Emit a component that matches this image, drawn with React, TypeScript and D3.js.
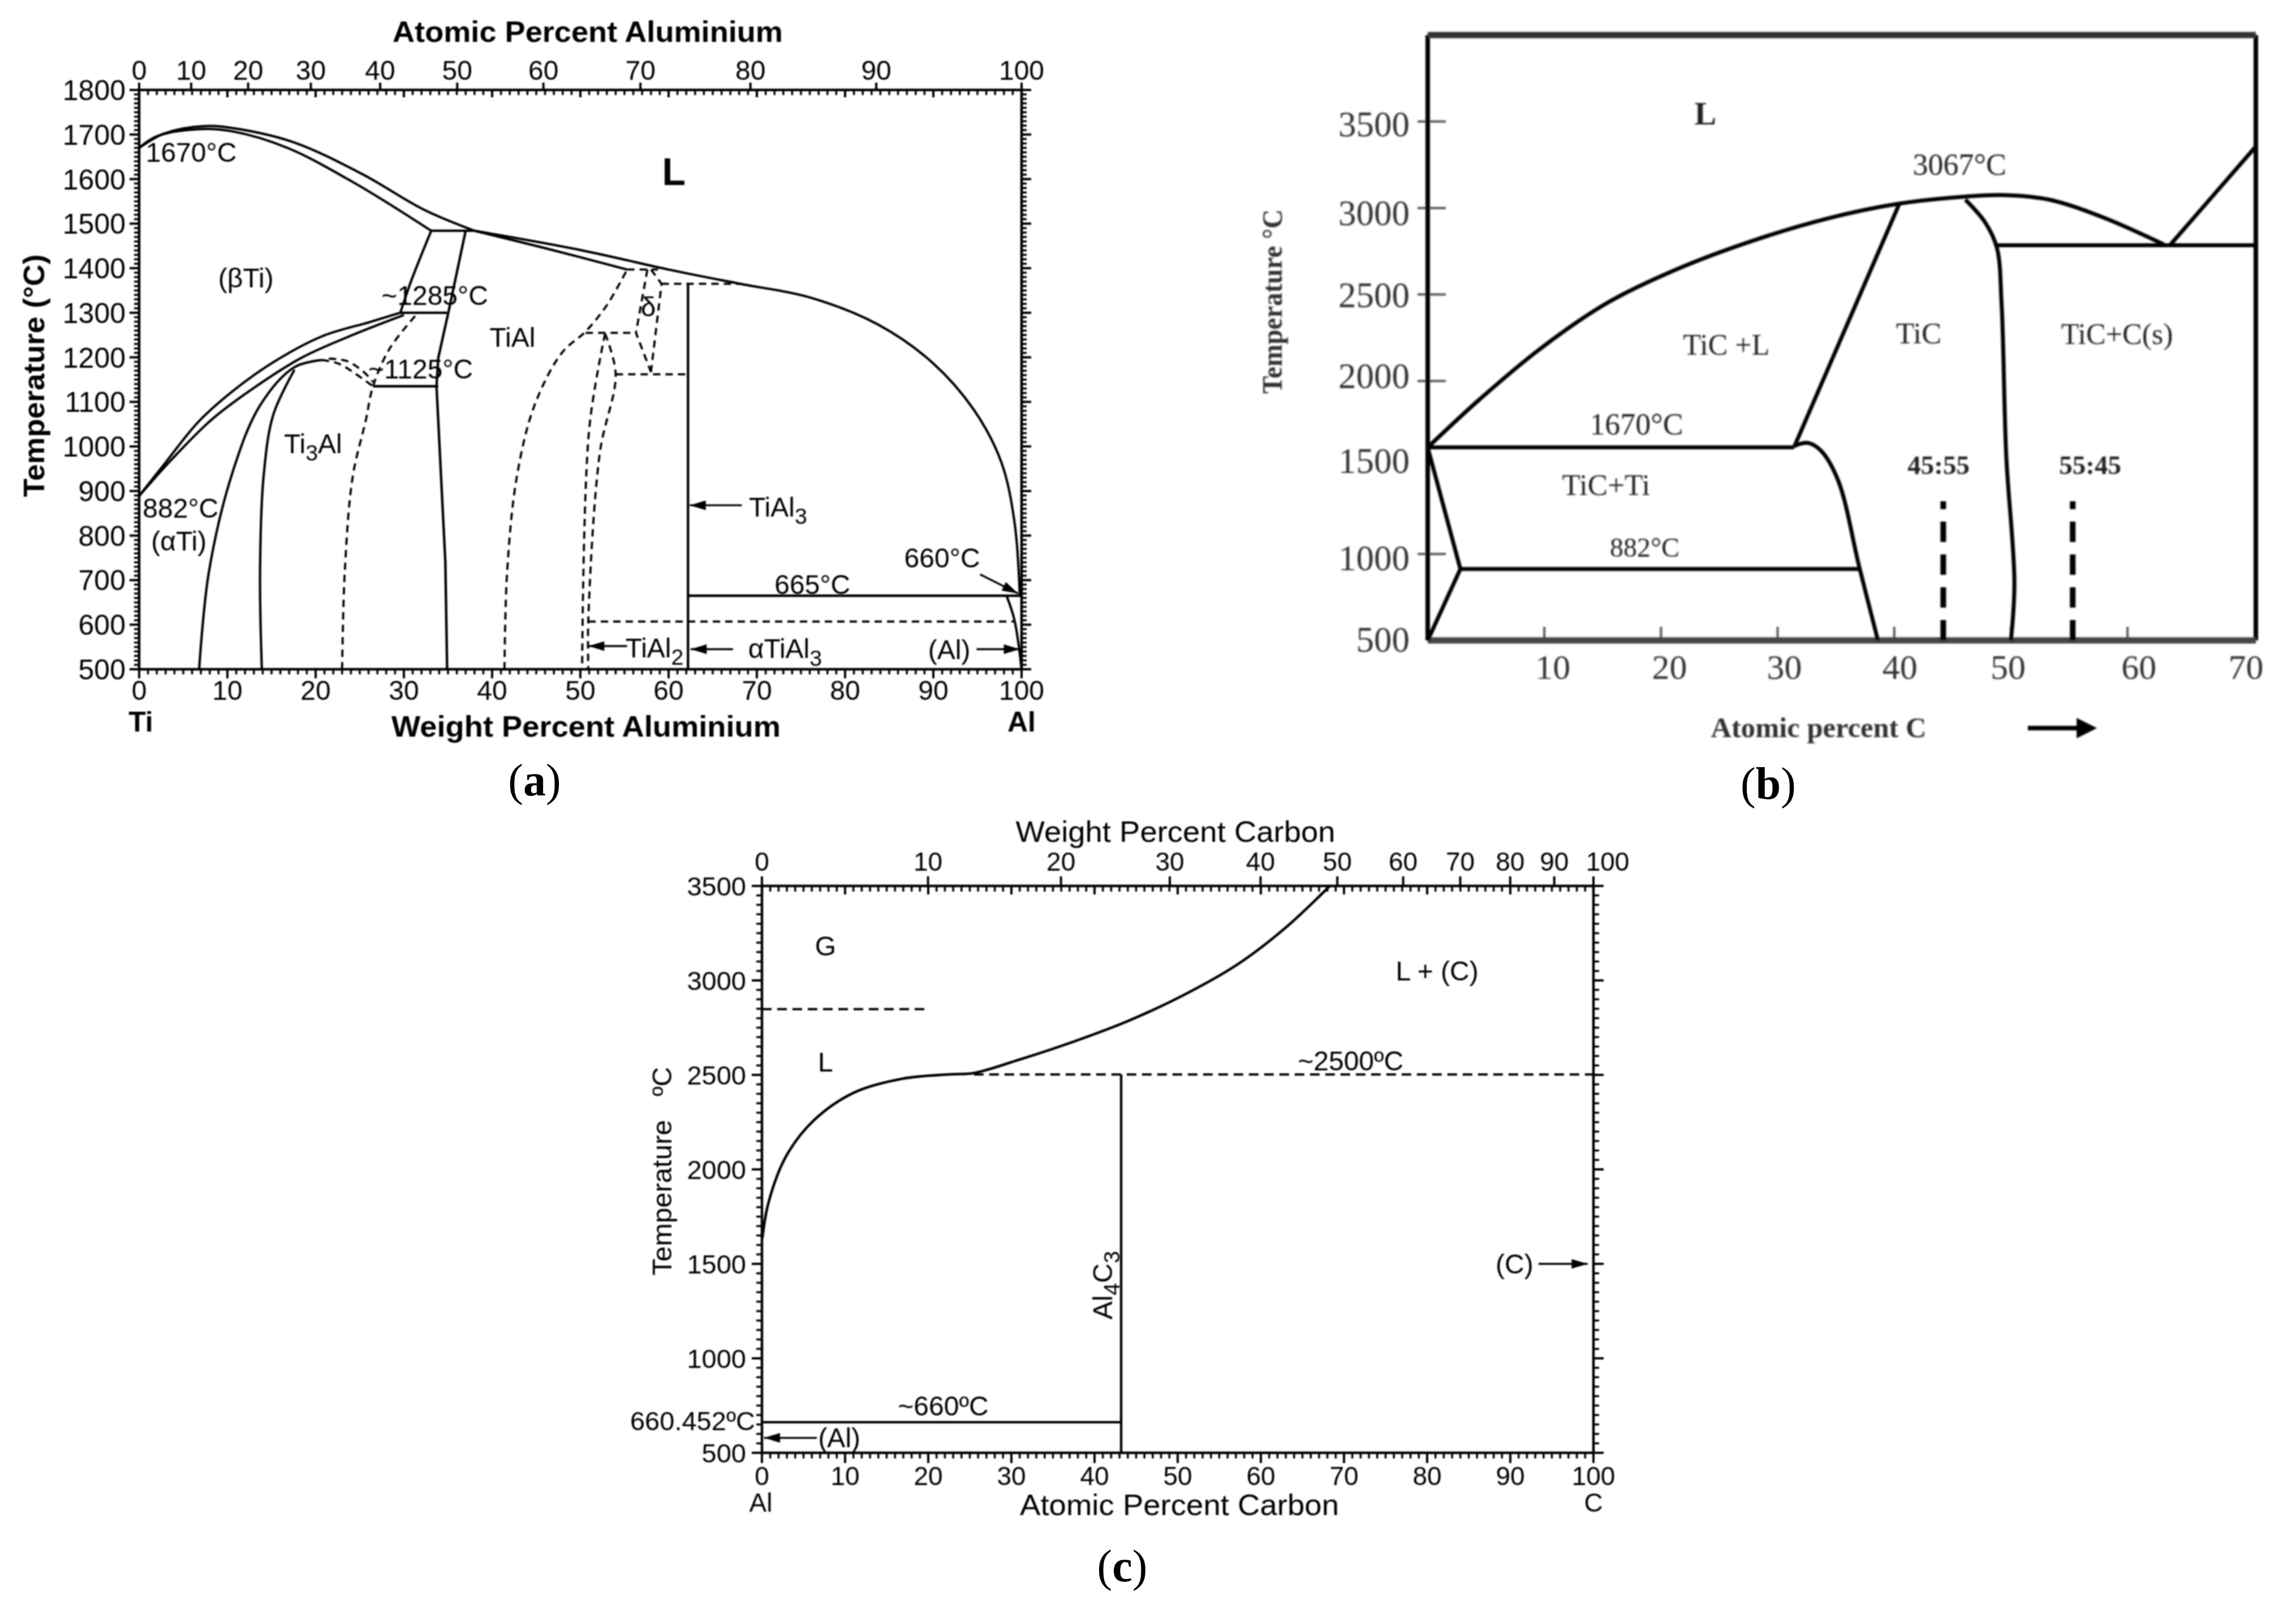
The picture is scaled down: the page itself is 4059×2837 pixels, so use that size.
import React from "react";
import * as d3 from "d3";

type P = [number, number];
type Note = { text: string; x: number; y: number; size?: number; weight?: number; anchor?: string; rotate?: number };
type Arrow = { from: P; to: P };

/* ---------- panel (a): Ti-Al ---------- */
const aYTicks = [500, 600, 700, 800, 900, 1000, 1100, 1200, 1300, 1400, 1500, 1600, 1700, 1800];
const aBottomTicks = [0, 10, 20, 30, 40, 50, 60, 70, 80, 90, 100];
const aTopTicksAtomic = [0, 10, 20, 30, 40, 50, 60, 70, 80, 90, 100];
const aLiquidusBeta: P[] = [[0, 1670], [2.8, 1702], [7.5, 1719], [11.4, 1712], [17.6, 1682], [25.3, 1611], [32.3, 1531], [38, 1484]];
const aLiquidusAl: P[] = [[38, 1484], [50.2, 1440], [60, 1397], [68.1, 1365], [75.9, 1335], [83.7, 1274], [89.9, 1188], [94.6, 1082], [97.7, 965], [99.2, 830], [99.8, 665]];
const aSolidusBeta: P[] = [[0, 1670], [2, 1696], [6.7, 1712], [10.6, 1707], [16.8, 1670], [24.6, 1589], [33.1, 1484]];
const aSolidusTiAl: P[] = [[38, 1484], [46, 1445], [55.3, 1397]];
const aAlphaUpper: P[] = [[0, 889], [2.8, 959], [6.7, 1055], [10.6, 1124], [15.2, 1189], [20.7, 1247], [26.1, 1279], [29.6, 1300]];
const aAlphaLower: P[] = [[0, 889], [3.6, 969], [8.2, 1060], [12.9, 1130], [18.4, 1199], [23.8, 1247], [30, 1295]];
const aBetaLeft: P[] = [[33.1, 1484], [30.8, 1370], [29.6, 1300]];
const aTiAlLeft: P[] = [[37, 1484], [35.1, 1306], [33.9, 1199], [33.7, 1135], [34.7, 740], [34.9, 500]];
const aTi3AlOuter: P[] = [[6.8, 500], [7.9, 718], [10.6, 943], [13.7, 1092], [17.6, 1178], [20.7, 1194]];
const aTi3AlInner: P[] = [[13.9, 500], [13.7, 718], [14.1, 932], [15.2, 1071], [17.6, 1172]];
const aH1484: P[] = [[33.1, 1484], [38, 1484]];
const aH1300: P[] = [[29.6, 1300], [34.9, 1300]];
const aH1135: P[] = [[26.5, 1135], [33.9, 1135]];
const aTiAl3: P[] = [[62.2, 1365], [62.2, 500]];
const aH665: P[] = [[62.2, 665], [100, 665]];
const aAlSolvus: P[] = [[98.3, 665], [99.2, 610], [100, 500]];
const aDashTop1: P[] = [[20.7, 1194], [22.6, 1186], [24.6, 1162], [26.5, 1135]];
const aDashTop2: P[] = [[21.5, 1197], [23.5, 1192], [25.4, 1168], [26.5, 1145]];
const aDashTi3AlRight: P[] = [[23, 500], [23.3, 718], [24.2, 932], [25.7, 1060], [26.5, 1135], [28.4, 1220], [31.6, 1300]];
const aDashTiAlRight: P[] = [[41.4, 500], [41.7, 718], [42.8, 932], [44.8, 1092], [47.9, 1210], [50.6, 1258], [53, 1317], [55.3, 1397]];
const aDashDeltaTop: P[] = [[55.3, 1397], [58.8, 1397]];
const aDashDeltaLeft: P[] = [[57.6, 1397], [56.3, 1255], [58, 1167]];
const aDashDeltaRight: P[] = [[58, 1397], [59.2, 1365], [58, 1167]];
const aDashH1365: P[] = [[59.2, 1365], [68.1, 1365]];
const aDashH1255: P[] = [[50.6, 1255], [56.3, 1255]];
const aDashH1162: P[] = [[54, 1162], [62.2, 1162]];
const aDashTiAl2Left: P[] = [[52.8, 1253], [51, 1039], [50.2, 500]];
const aDashTiAl2Right: P[] = [[52.8, 1253], [54, 1162], [52.2, 985], [50.9, 611], [50.9, 500]];
const aDashH610: P[] = [[50.9, 607], [99.2, 607]];
const aNotes: Note[] = [
  { text: "1670°C", x: 5.9, y: 1661 }, { text: "L", x: 60.6, y: 1618, size: 68, weight: 700 },
  { text: "(βTi)", x: 12.1, y: 1379 }, { text: "~1285°C", x: 33.5, y: 1340 }, { text: "TiAl", x: 42.3, y: 1245 },
  { text: "δ", x: 57.7, y: 1314 }, { text: "~1125°C", x: 31.9, y: 1175 }, { text: "Ti_3Al", x: 19.7, y: 1007 },
  { text: "882°C", x: 4.7, y: 862 }, { text: "(αTi)", x: 4.5, y: 788 }, { text: "TiAl_3", x: 72.4, y: 865 },
  { text: "660°C", x: 91, y: 750 }, { text: "665°C", x: 76.3, y: 691 }, { text: "TiAl_2", x: 58.4, y: 549 },
  { text: "αTiAl_3", x: 73.2, y: 547 }, { text: "(Al)", x: 91.8, y: 545 },
];
const aArrows: Arrow[] = [
  { from: [68.3, 868], to: [62.4, 868] }, { from: [95.3, 713], to: [99.6, 670] }, { from: [55.3, 552], to: [50.9, 552] },
  { from: [67.3, 545], to: [62.5, 545] }, { from: [94.9, 545], to: [99.8, 545] },
];

/* ---------- panel (b): Ti-C ---------- */
const bYTicks = [1000, 2000, 2500, 3000, 3500];
const bYLabels = [500, 1000, 1500, 2000, 2500, 3000, 3500];
const bYLabelShift = [-3, 6, -13, -10, 0, 8, 3];
const bXTicks = [10, 20, 30, 40, 50, 60];
const bXLabels = [10, 20, 30, 40, 50, 60, 70];
const bXLabelShift = [15, 15, 12, 10, -5, 20, 3];
const bLiquidus: P[] = [[0, 1616], [4.4, 1891], [9.6, 2184], [15.3, 2448], [21.6, 2653], [28, 2814], [34.3, 2940], [40.4, 3025], [46.1, 3066], [49.3, 3075], [53.3, 3048], [57.9, 2946], [63.1, 2790]];
const bEutecticUp: P[] = [[63.7, 2790], [71, 3356]];
const bH2785: P[] = [[48.7, 2785], [71, 2785]];
const bTiCLeft: P[] = [[40.4, 3019], [31.4, 1616]];
const bH1616: P[] = [[0, 1616], [31.4, 1616]];
const bHump: P[] = [[31.4, 1625], [32.6, 1642], [33.7, 1598], [35.2, 1423], [37, 925], [38.6, 500]];
const bH913: P[] = [[2.8, 913], [37, 913]];
const bLeftWedge: P[] = [[0, 1616], [2.8, 913], [0, 500]];
const bTiCRight: P[] = [[46.1, 3048], [47.8, 2916], [48.8, 2770], [49.2, 2448], [49.6, 1569], [50.3, 837], [50, 500]];
const bDash45: P[] = [[44.2, 500], [44.2, 1305]];
const bDash55: P[] = [[55.3, 500], [55.3, 1305]];
const bNotes: Note[] = [
  { text: "L", x: 23.8, y: 3550, size: 58, weight: 700 }, { text: "3067°C", x: 45.6, y: 3256, size: 54 },
  { text: "TiC +L", x: 25.6, y: 2213, size: 52 }, { text: "TiC", x: 42.1, y: 2280, size: 53 }, { text: "TiC+C(s)", x: 59.1, y: 2275, size: 52 },
  { text: "1670°C", x: 17.9, y: 1753, size: 54 }, { text: "TiC+Ti", x: 15.3, y: 1403, size: 53 },
  { text: "45:55", x: 43.8, y: 1516, size: 47, weight: 700 }, { text: "55:45", x: 56.8, y: 1516, size: 47, weight: 700 },
  { text: "882°C", x: 18.6, y: 1042, size: 48 },
];

/* ---------- panel (c): Al-C ---------- */
const cYTicks = [500, 1000, 1500, 2000, 2500, 3000, 3500];
const cBottomTicks = [0, 10, 20, 30, 40, 50, 60, 70, 80, 90, 100];
const cTopTicksWeight = [0, 10, 20, 30, 40, 50, 60, 70, 80, 90, 100];
const cLiquidus: P[] = [[0.05, 1636], [0.8, 1826], [2.9, 2069], [6.2, 2258], [11.1, 2407], [16.9, 2480], [22.6, 2503], [25.5, 2510], [30.9, 2580], [37.4, 2675], [44, 2785], [50.6, 2920], [57.2, 3085], [63, 3280], [68.3, 3500]];
const cDash2500: P[] = [[25.5, 2502], [100, 2502]];
const cDash2850: P[] = [[0, 2848], [19.8, 2848]];
const cAl4C3: P[] = [[43.2, 2502], [43.2, 500]];
const cH660: P[] = [[0, 662], [43.2, 662]];
const cNotes: Note[] = [
  { text: "G", x: 7.65, y: 3184 }, { text: "L", x: 7.65, y: 2569 }, { text: "L + (C)", x: 81.2, y: 3051 },
  { text: "~2500ºC", x: 70.8, y: 2575 }, { text: "~660ºC", x: 21.8, y: 749 }, { text: "(Al)", x: 9.3, y: 581 },
  { text: "(C)", x: 90.5, y: 1501 }, { text: "Al_4C_3", x: 40.9, y: 1387, rotate: -90 },
];
const cArrows: Arrow[] = [{ from: [6.6, 579], to: [0.25, 579] }, { from: [93.4, 1500], to: [99.3, 1500] }];

const SANS = "'Liberation Sans', Arial, sans-serif";
const SERIF = "'Liberation Serif', 'Times New Roman', serif";
const INK = "#000";
const SMOOTH = d3.curveCatmullRom.alpha(0.5);

const atomicToWeightAl = (a: number) => (100 * a * 26.98) / (a * 26.98 + (100 - a) * 47.87);
const weightToAtomicC = (w: number) => (100 * (w / 12.01)) / (w / 12.01 + (100 - w) / 26.98);

function Rich({ text, x, y, size, weight, anchor = "middle", family, fill = INK, rotate }: any) {
  const parts = String(text).split(/_(\d)/);
  const tf = rotate ? `rotate(${rotate} ${x} ${y})` : undefined;
  return (
    <text x={x} y={y + size * 0.36} fontSize={size} fontWeight={weight} textAnchor={anchor} fontFamily={family} fill={fill} transform={tf}>
      {parts.map((p, i) =>
        i % 2 === 1 ? (
          <tspan key={i} fontSize={size * 0.82} dy={size * 0.28}>{p}</tspan>
        ) : (
          <tspan key={i} dy={i > 0 ? -size * 0.28 : 0}>{p}</tspan>
        )
      )}
    </text>
  );
}

function Arrowhead({ id }: { id: string }) {
  return (
    <marker id={id} viewBox="0 0 10 6" refX="10" refY="3" markerUnits="userSpaceOnUse" markerWidth="30" markerHeight="17" orient="auto">
      <path d="M0,0L10,3L0,6Z" fill={INK} />
    </marker>
  );
}

function Lines({ list, line, width, dash, curve }: any) {
  return (
    <g fill="none" stroke={INK} strokeWidth={width} strokeDasharray={dash} strokeLinejoin="round">
      {list.map((pts: P[], i: number) => (
        <path key={i} d={line.curve(curve)(pts)} />
      ))}
    </g>
  );
}

function PanelA() {
  const x = d3.scaleLinear().domain([0, 100]).range([246, 1806]);
  const y = d3.scaleLinear().domain([500, 1800]).range([1183, 159]);
  const line = d3.line<P>().x((d) => x(d[0])).y((d) => y(d[1]));
  const minorsX = d3.range(0, 101);
  const minorsY = d3.range(500, 1801, 10);
  const smooth = [aLiquidusBeta, aLiquidusAl, aSolidusBeta, aSolidusTiAl, aAlphaUpper, aAlphaLower, aBetaLeft, aTi3AlOuter, aTi3AlInner, aAlSolvus];
  const straight = [aTiAlLeft, aH1484, aH1300, aH1135, aTiAl3, aH665];
  const dashedSmooth = [aDashTop1, aDashTop2, aDashTi3AlRight, aDashTiAlRight, aDashTiAl2Left, aDashTiAl2Right];
  const dashedStraight = [aDashDeltaTop, aDashDeltaLeft, aDashDeltaRight, aDashH1365, aDashH1255, aDashH1162, aDashH610];
  return (
    <g filter="url(#softA)">
      <rect x={x(0)} y={y(1800)} width={x(100) - x(0)} height={y(500) - y(1800)} fill="none" stroke={INK} strokeWidth={4.5} />
      <g stroke={INK} strokeWidth={3.5}>
        {minorsX.map((v) => <line key={v} x1={x(v)} x2={x(v)} y1={y(500)} y2={y(500) + 9} />)}
        {minorsX.map((v) => <line key={v} x1={x(v)} x2={x(v)} y1={y(1800)} y2={y(1800) + 9} />)}
        {minorsY.map((v) => <line key={v} y1={y(v)} y2={y(v)} x1={x(0)} x2={x(0) - 9} />)}
        {minorsY.map((v) => <line key={v} y1={y(v)} y2={y(v)} x1={x(100)} x2={x(100) + 9} />)}
      </g>
      <g stroke={INK} strokeWidth={4}>
        {aBottomTicks.map((v) => <line key={v} x1={x(v)} x2={x(v)} y1={y(500)} y2={y(500) + 16} />)}
        {aBottomTicks.map((v) => <line key={v} x1={x(v)} x2={x(v)} y1={y(1800)} y2={y(1800) + 13} />)}
        {aTopTicksAtomic.map((v) => <line key={v} x1={x(atomicToWeightAl(v))} x2={x(atomicToWeightAl(v))} y1={y(1800)} y2={y(1800) - 13} />)}
        {aYTicks.map((v) => <line key={v} y1={y(v)} y2={y(v)} x1={x(0)} x2={x(0) - 17} />)}
        {aYTicks.map((v) => <line key={v} y1={y(v)} y2={y(v)} x1={x(100)} x2={x(100) + 17} />)}
      </g>
      <Lines list={smooth} line={line} width={4.2} curve={SMOOTH} />
      <Lines list={straight} line={line} width={4.4} curve={d3.curveLinear} />
      <Lines list={dashedSmooth} line={line} width={3.8} dash="13 9" curve={SMOOTH} />
      <Lines list={dashedStraight} line={line} width={3.8} dash="13 9" curve={d3.curveLinear} />
      {aArrows.map((a, i) => (
        <line key={i} x1={x(a.from[0])} y1={y(a.from[1])} x2={x(a.to[0])} y2={y(a.to[1])} stroke={INK} strokeWidth={3.4} markerEnd="url(#headA)" />
      ))}
      {aYTicks.map((v) => <Rich key={v} text={v} x={222} y={y(v)} size={50} anchor="end" family={SANS} />)}
      {aBottomTicks.map((v) => <text key={v} x={x(v)} y={1237} fontSize={48} textAnchor="middle" fontFamily={SANS} fill={INK}>{v}</text>)}
      {aTopTicksAtomic.map((v) => <text key={v} x={x(atomicToWeightAl(v))} y={141} fontSize={48} textAnchor="middle" fontFamily={SANS} fill={INK}>{v}</text>)}
      {aNotes.map((n) => <Rich key={n.text} text={n.text} x={x(n.x)} y={y(n.y)} size={n.size ?? 48} weight={n.weight} family={SANS} />)}
      <text x={1039} y={74} fontSize={52} fontWeight={700} textAnchor="middle" fontFamily={SANS} fill={INK} textLength={690} lengthAdjust="spacingAndGlyphs">Atomic Percent Aluminium</text>
      <text x={1036} y={1302} fontSize={52} fontWeight={700} textAnchor="middle" fontFamily={SANS} fill={INK} textLength={688} lengthAdjust="spacingAndGlyphs">Weight Percent Aluminium</text>
      <text transform="translate(78,664) rotate(-90)" fontSize={52} fontWeight={700} textAnchor="middle" fontFamily={SANS} fill={INK} textLength={429} lengthAdjust="spacingAndGlyphs">Temperature (°C)</text>
      <text x={249} y={1293} fontSize={50} fontWeight={700} textAnchor="middle" fontFamily={SANS} fill={INK}>Ti</text>
      <text x={1806} y={1293} fontSize={50} fontWeight={700} textAnchor="middle" fontFamily={SANS} fill={INK}>Al</text>
    </g>
  );
}

function PanelB() {
  const x = d3.scaleLinear().domain([0, 71]).range([2524, 3988]);
  const y = d3.scaleLinear().domain([500, 4000]).range([1132, 62]);
  const line = d3.line<P>().x((d) => x(d[0])).y((d) => y(d[1]));
  const ink = "#000";
  return (
    <g filter="url(#softB)">
      <g stroke="#555" strokeWidth={4}>
        {bYTicks.map((v) => <line key={v} x1={x(0) - 18} x2={x(0) + 32} y1={y(v)} y2={y(v)} />)}
        {bXTicks.map((v) => <line key={v} x1={x(v)} x2={x(v)} y1={y(500)} y2={y(500) - 24} />)}
      </g>
      <line x1={x(0)} x2={x(0)} y1={y(4000)} y2={y(500)} stroke="#000" strokeWidth={8} />
      <line x1={x(71)} x2={x(71)} y1={y(4000)} y2={y(500)} stroke="#000" strokeWidth={8} />
      <line x1={x(0)} x2={x(71)} y1={y(4000)} y2={y(4000)} stroke="#333" strokeWidth={11} />
      <line x1={x(0)} x2={x(71)} y1={y(500)} y2={y(500)} stroke="#444" strokeWidth={11} />
      <Lines list={[bLiquidus, bHump, bTiCRight]} line={line} width={7} curve={SMOOTH} />
      <Lines list={[bEutecticUp, bH2785, bTiCLeft, bH1616, bH913, bLeftWedge]} line={line} width={7} curve={d3.curveLinear} />
      <Lines list={[bDash45, bDash55]} line={line} width={10} dash="36 22" curve={d3.curveLinear} />
      {bYLabels.map((v, i) => <Rich key={v} text={v} x={2492} y={y(v) + bYLabelShift[i]} size={63} anchor="end" family={SERIF} fill="#333" />)}
      {bXLabels.map((v, i) => <text key={v} x={x(v) + bXLabelShift[i]} y={1200} fontSize={62} textAnchor="middle" fontFamily={SERIF} fill="#333">{v}</text>)}
      {bNotes.map((n) => <Rich key={n.text} text={n.text} x={x(n.x)} y={y(n.y)} size={n.size} weight={n.weight} family={SERIF} fill="#222" />)}
      <text x={3215} y={1303} fontSize={50} fontWeight={700} textAnchor="middle" fontFamily={SERIF} fill="#333" textLength={381} lengthAdjust="spacingAndGlyphs">Atomic percent C</text>
      <text transform="translate(2266,533) rotate(-90)" fontSize={50} fontWeight={700} textAnchor="middle" fontFamily={SERIF} fill="#333" textLength={326} lengthAdjust="spacingAndGlyphs">Temperature °C</text>
      <line x1={3585} x2={3700} y1={1287} y2={1287} stroke={ink} strokeWidth={8} markerEnd="url(#headB)" />
    </g>
  );
}

function PanelC() {
  const x = d3.scaleLinear().domain([0, 100]).range([1347, 2817]);
  const y = d3.scaleLinear().domain([500, 3500]).range([2568, 1566]);
  const line = d3.line<P>().x((d) => x(d[0])).y((d) => y(d[1]));
  const minorsX = d3.range(0, 101);
  const minorsY = d3.range(500, 3501, 50);
  return (
    <g filter="url(#softA)">
      <rect x={x(0)} y={y(3500)} width={x(100) - x(0)} height={y(500) - y(3500)} fill="none" stroke={INK} strokeWidth={4.5} />
      <g stroke={INK} strokeWidth={3.5}>
        {minorsX.map((v) => <line key={v} x1={x(v)} x2={x(v)} y1={y(500)} y2={y(500) + 10} />)}
        {minorsX.map((v) => <line key={v} x1={x(v)} x2={x(v)} y1={y(3500)} y2={y(3500) + 10} />)}
        {minorsY.map((v) => <line key={v} y1={y(v)} y2={y(v)} x1={x(0)} x2={x(0) - 10} />)}
        {minorsY.map((v) => <line key={v} y1={y(v)} y2={y(v)} x1={x(100)} x2={x(100) + 10} />)}
      </g>
      <g stroke={INK} strokeWidth={4}>
        {cBottomTicks.map((v) => <line key={v} x1={x(v)} x2={x(v)} y1={y(500)} y2={y(500) + 18} />)}
        {cBottomTicks.map((v) => <line key={v} x1={x(v)} x2={x(v)} y1={y(3500)} y2={y(3500) + 15} />)}
        {cTopTicksWeight.map((v) => <line key={v} x1={x(weightToAtomicC(v))} x2={x(weightToAtomicC(v))} y1={y(3500)} y2={y(3500) - 17} />)}
        {cYTicks.map((v) => <line key={v} y1={y(v)} y2={y(v)} x1={x(0)} x2={x(0) - 18} />)}
        {cYTicks.map((v) => <line key={v} y1={y(v)} y2={y(v)} x1={x(100)} x2={x(100) + 18} />)}
      </g>
      <Lines list={[cLiquidus]} line={line} width={4.6} curve={SMOOTH} />
      <Lines list={[cAl4C3, cH660]} line={line} width={4.4} curve={d3.curveLinear} />
      <Lines list={[cDash2500, cDash2850]} line={line} width={4} dash="17 10" curve={d3.curveLinear} />
      {cArrows.map((a, i) => (
        <line key={i} x1={x(a.from[0])} y1={y(a.from[1])} x2={x(a.to[0])} y2={y(a.to[1])} stroke={INK} strokeWidth={3.4} markerEnd="url(#headA)" />
      ))}
      {cYTicks.map((v) => <Rich key={v} text={v} x={1319} y={y(v)} size={47} anchor="end" family={SANS} />)}
      <Rich text="660.452ºC" x={1335} y={y(670)} size={47} anchor="end" family={SANS} />
      {cBottomTicks.map((v) => <text key={v} x={x(v)} y={2625} fontSize={46} textAnchor="middle" fontFamily={SANS} fill={INK}>{v}</text>)}
      {cTopTicksWeight.map((v) => <text key={v} x={x(weightToAtomicC(v)) + (v === 100 ? 25 : 0)} y={1539} fontSize={46} textAnchor="middle" fontFamily={SANS} fill={INK}>{v}</text>)}
      {cNotes.map((n) => <Rich key={n.text} text={n.text} x={x(n.x)} y={y(n.y)} size={48} family={SANS} rotate={n.rotate} />)}
      <text x={2078} y={1488} fontSize={52} textAnchor="middle" fontFamily={SANS} fill={INK} textLength={565} lengthAdjust="spacingAndGlyphs">Weight Percent Carbon</text>
      <text x={2085} y={2678} fontSize={52} textAnchor="middle" fontFamily={SANS} fill={INK} textLength={564} lengthAdjust="spacingAndGlyphs">Atomic Percent Carbon</text>
      <text transform="translate(1187,2117) rotate(-90)" fontSize={48} textAnchor="middle" fontFamily={SANS} fill={INK} textLength={275} lengthAdjust="spacingAndGlyphs">Temperature</text>
      <text transform="translate(1187,1912) rotate(-90)" fontSize={48} textAnchor="middle" fontFamily={SANS} fill={INK}>ºC</text>
      <text x={1345} y={2672} fontSize={46} textAnchor="middle" fontFamily={SANS} fill={INK}>Al</text>
      <text x={2817} y={2672} fontSize={46} textAnchor="middle" fontFamily={SANS} fill={INK}>C</text>
    </g>
  );
}

function Caption({ letter, x, y }: { letter: string; x: number; y: number }) {
  return (
    <text x={x} y={y} fontSize={80} textAnchor="middle" fontFamily={SERIF} fill="#000">
      (<tspan fontWeight={700}>{letter}</tspan>)
    </text>
  );
}

export default function App() {
  return (
    <svg width={4059} height={2837} viewBox="0 0 4059 2837" style={{ position: "absolute", left: 0, top: 0, background: "#fff" }}>
      <defs>
        <filter id="softA" filterUnits="userSpaceOnUse" x="0" y="0" width="4059" height="2837"><feGaussianBlur stdDeviation="0.9" /></filter>
        <filter id="softB" filterUnits="userSpaceOnUse" x="0" y="0" width="4059" height="2837"><feGaussianBlur stdDeviation="1.6" /></filter>
        <Arrowhead id="headA" />
        <marker id="headB" viewBox="0 0 10 10" refX="8" refY="5" markerUnits="userSpaceOnUse" markerWidth="38" markerHeight="36" orient="auto">
          <path d="M0,0L10,5L0,10Z" fill="#000" />
        </marker>
      </defs>
      <PanelA />
      <PanelB />
      <PanelC />
      <Caption letter="a" x={945} y={1406} />
      <Caption letter="b" x={3126} y={1412} />
      <Caption letter="c" x={1984} y={2795} />
    </svg>
  );
}
